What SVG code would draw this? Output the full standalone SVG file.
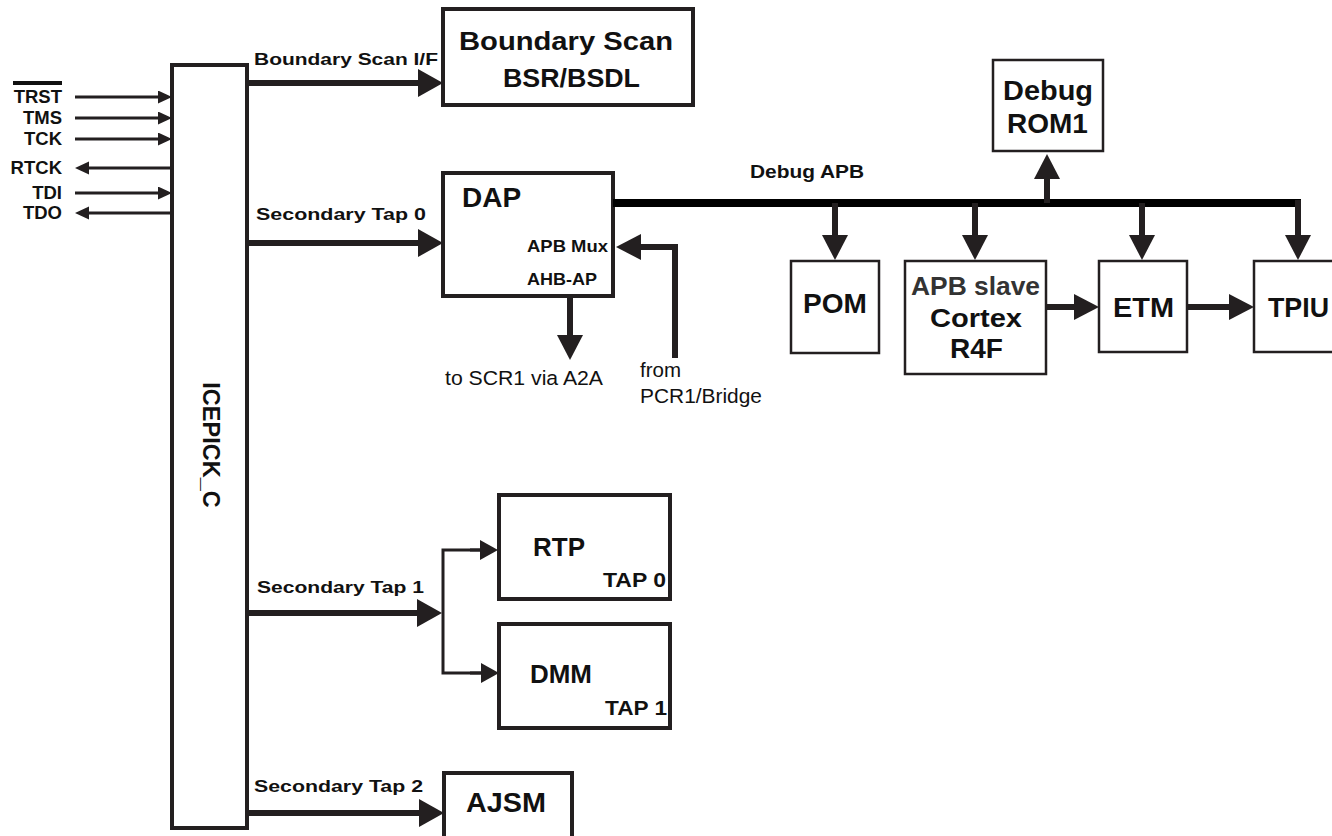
<svg xmlns="http://www.w3.org/2000/svg" width="1332" height="836" viewBox="0 0 1332 836">
<style>
.box{fill:#fff;stroke:#231f20;stroke-width:4}
.box2{fill:#fff;stroke:#231f20;stroke-width:2.5}
.thin{fill:none;stroke:#231f20;stroke-width:3}
.thick{fill:none;stroke:#231f20;stroke-width:6}
.bus{fill:none;stroke:#000;stroke-width:8}
text{font-family:"Liberation Sans",Arial,Helvetica,sans-serif;fill:#111}
.sig{font-size:18.5px;font-weight:bold;text-anchor:end}
.lbl{font-size:17px;font-weight:bold}
.big{font-size:28px;font-weight:bold}
.mid{font-size:25px;font-weight:bold}
.small{font-size:16.5px;font-weight:bold}
.tap{font-size:20px;font-weight:bold}
.norm{font-size:20.5px}
</style>
<defs>
<marker id="as" markerUnits="userSpaceOnUse" markerWidth="15" markerHeight="14" refX="1" refY="6.5" orient="auto"><path d="M0,0 L14,6.5 L0,13 z" fill="#231f20"/></marker>
<marker id="am" markerUnits="userSpaceOnUse" markerWidth="19" markerHeight="20" refX="1" refY="10" orient="auto"><path d="M0,0 L18,10 L0,20 z" fill="#231f20"/></marker>
<marker id="ah" markerUnits="userSpaceOnUse" markerWidth="26" markerHeight="29" refX="1" refY="14" orient="auto"><path d="M0,0 L25,14 L0,28 z" fill="#231f20"/></marker>
<marker id="ad" markerUnits="userSpaceOnUse" markerWidth="26" markerHeight="27" refX="1" refY="13" orient="auto"><path d="M0,0 L25,13 L0,26 z" fill="#231f20"/></marker>
</defs>

<g id="signal-labels">
<text class="sig" x="62" y="103">TRST</text>
<line x1="13" y1="83" x2="62" y2="83" stroke="#111" stroke-width="4"/>
<text class="sig" x="62" y="124">TMS</text>
<text class="sig" x="62" y="145">TCK</text>
<text class="sig" x="62" y="174">RTCK</text>
<text class="sig" x="62" y="199">TDI</text>
<text class="sig" x="62" y="219">TDO</text>
</g>

<g id="icepick">
<rect class="box" x="172" y="65" width="75" height="763"/>
<text transform="translate(203,445) rotate(90)" font-size="23.5" font-weight="bold" text-anchor="middle">ICEPICK_C</text>
</g>

<g id="boundary-scan">
<rect class="box" x="443" y="9" width="250" height="96"/>
<text class="mid" x="459" y="50" textLength="214" lengthAdjust="spacingAndGlyphs">Boundary Scan</text>
<text class="mid" x="503" y="87" textLength="137" lengthAdjust="spacingAndGlyphs">BSR/BSDL</text>
</g>

<g id="dap">
<rect class="box" x="443" y="173" width="170" height="123"/>
<text class="big" x="462" y="207">DAP</text>
<text class="small" x="527" y="252" textLength="81" lengthAdjust="spacingAndGlyphs">APB Mux</text>
<text class="small" x="527" y="285" textLength="70" lengthAdjust="spacingAndGlyphs">AHB-AP</text>
</g>

<g id="debug-rom1">
<rect class="box2" x="993" y="60" width="110" height="91"/>
<text class="big" x="1003" y="100" textLength="90" lengthAdjust="spacingAndGlyphs">Debug</text>
<text class="big" x="1007" y="133">ROM1</text>
</g>

<g id="pom">
<rect class="box2" x="791" y="261" width="88" height="92"/>
<text class="big" x="803" y="313">POM</text>
</g>

<g id="cortex">
<rect class="box2" x="905" y="261" width="141" height="113"/>
<text class="mid" x="911" y="295" textLength="129" lengthAdjust="spacingAndGlyphs" style="fill:#333">APB slave</text>
<text class="mid" x="930" y="327" textLength="92" lengthAdjust="spacingAndGlyphs">Cortex</text>
<text class="big" x="950" y="358">R4F</text>
</g>

<g id="etm">
<rect class="box2" x="1099" y="261" width="88" height="91"/>
<text class="big" x="1113" y="317" textLength="61" lengthAdjust="spacingAndGlyphs">ETM</text>
</g>

<g id="tpiu">
<rect class="box2" x="1254" y="261" width="90" height="91"/>
<text class="big" x="1268" y="317" textLength="61" lengthAdjust="spacingAndGlyphs">TPIU</text>
</g>

<g id="rtp">
<rect class="box" x="499" y="495" width="171" height="104"/>
<text class="mid" x="533" y="556" textLength="52" lengthAdjust="spacingAndGlyphs">RTP</text>
<text class="tap" x="603" y="587" textLength="63" lengthAdjust="spacingAndGlyphs">TAP 0</text>
</g>

<g id="dmm">
<rect class="box" x="499" y="624" width="171" height="104"/>
<text class="mid" x="530" y="683" textLength="62" lengthAdjust="spacingAndGlyphs">DMM</text>
<text class="tap" x="605" y="715" textLength="62" lengthAdjust="spacingAndGlyphs">TAP 1</text>
</g>

<g id="ajsm">
<rect class="box" x="444" y="773" width="128" height="80"/>
<text class="big" x="466" y="812" textLength="80" lengthAdjust="spacingAndGlyphs">AJSM</text>
</g>

<g id="connectors">
<line class="thin" x1="75" y1="97" x2="159" y2="97" marker-end="url(#as)"/>
<line class="thin" x1="75" y1="118" x2="159" y2="118" marker-end="url(#as)"/>
<line class="thin" x1="75" y1="139" x2="159" y2="139" marker-end="url(#as)"/>
<line class="thin" x1="172" y1="168" x2="88" y2="168" marker-end="url(#as)"/>
<line class="thin" x1="75" y1="193" x2="159" y2="193" marker-end="url(#as)"/>
<line class="thin" x1="172" y1="213" x2="88" y2="213" marker-end="url(#as)"/>

<line class="thick" x1="248" y1="83" x2="419" y2="83" marker-end="url(#ah)"/>
<line class="thick" x1="248" y1="243" x2="419" y2="243" marker-end="url(#ah)"/>
<line class="thick" x1="248" y1="613" x2="418" y2="613" marker-end="url(#ah)"/>
<line class="thick" x1="248" y1="813" x2="420" y2="813" marker-end="url(#ah)"/>

<path class="thin" d="M482,550 H443 V673 H482"/>
<line class="thin" x1="470" y1="550" x2="481" y2="550" marker-end="url(#am)"/>
<line class="thin" x1="470" y1="673" x2="482" y2="673" marker-end="url(#am)"/>

<line class="bus" x1="613" y1="203" x2="1301" y2="203"/>
<line class="thick" x1="835" y1="203" x2="835" y2="236" marker-end="url(#ad)"/>
<line class="thick" x1="975" y1="203" x2="975" y2="236" marker-end="url(#ad)"/>
<line class="thick" x1="1142" y1="203" x2="1142" y2="236" marker-end="url(#ad)"/>
<line class="thick" x1="1298" y1="200" x2="1298" y2="236" marker-end="url(#ad)"/>
<line class="thick" x1="1047" y1="203" x2="1047" y2="178" marker-end="url(#ad)"/>
<text class="lbl" x="750" y="178" textLength="114" lengthAdjust="spacingAndGlyphs" style="font-size:19px">Debug APB</text>

<line class="thick" x1="1047" y1="307" x2="1075" y2="307" marker-end="url(#ad)"/>
<line class="thick" x1="1187" y1="307" x2="1230" y2="307" marker-end="url(#ad)"/>

<line class="thick" x1="570" y1="296" x2="570" y2="336" marker-end="url(#ad)"/>
<path class="thick" d="M675,358 V247 H640" marker-end="url(#ad)"/>

<text class="lbl" x="254" y="65" textLength="184" lengthAdjust="spacingAndGlyphs">Boundary Scan I/F</text>
<text class="lbl" x="256" y="220" textLength="170" lengthAdjust="spacingAndGlyphs">Secondary Tap 0</text>
<text class="lbl" x="257" y="593" textLength="167" lengthAdjust="spacingAndGlyphs">Secondary Tap 1</text>
<text class="lbl" x="254" y="792" textLength="169" lengthAdjust="spacingAndGlyphs">Secondary Tap 2</text>
<text class="norm" x="445" y="385" textLength="158" lengthAdjust="spacingAndGlyphs">to SCR1 via A2A</text>
<text class="norm" x="640" y="377">from</text>
<text class="norm" x="640" y="403" textLength="122" lengthAdjust="spacingAndGlyphs">PCR1/Bridge</text>
</g>
</svg>
